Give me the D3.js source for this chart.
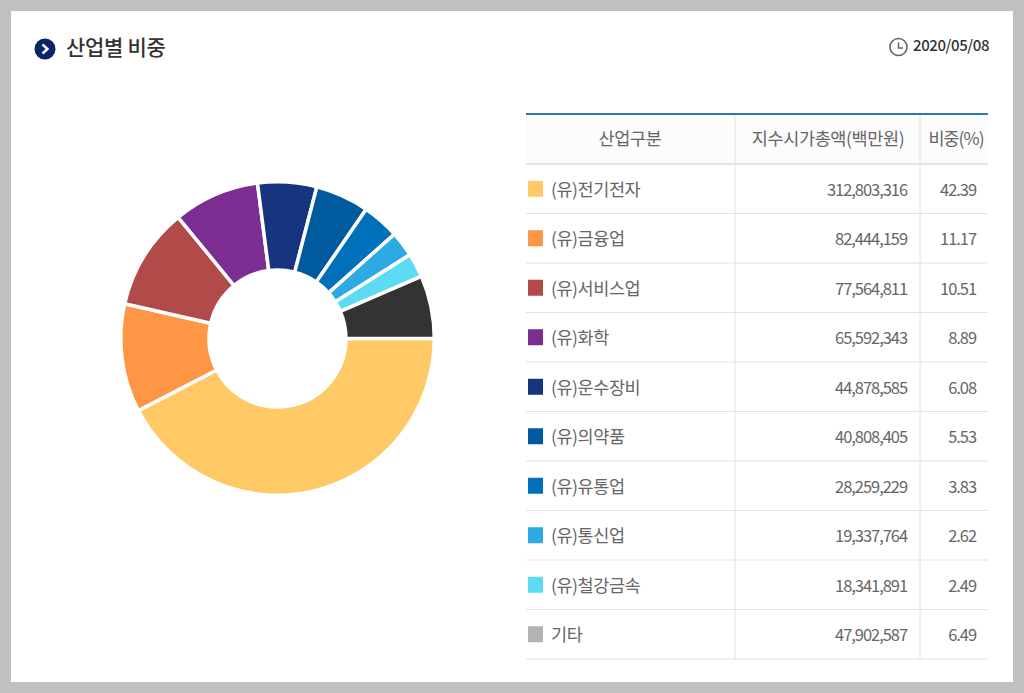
<!DOCTYPE html>
<html>
<head>
<meta charset="utf-8">
<script src="https://cdnjs.cloudflare.com/ajax/libs/d3/7.8.5/d3.min.js"></script>
<style>
html, body { margin: 0; padding: 0; background: #c0c0c0; overflow: hidden; }
svg { display: block; }
text { font-family: "Noto Sans CJK KR", "Noto Sans", sans-serif; }
</style>
</head>
<body>
<svg id="chart"></svg>
<script>
var categories = ["(유)전기전자", "(유)금융업", "(유)서비스업", "(유)화학", "(유)운수장비", "(유)의약품", "(유)유통업", "(유)통신업", "(유)철강금속", "기타"];
var marketCap = [312803316, 82444159, 77564811, 65592343, 44878585, 40808405, 28259229, 19337764, 18341891, 47902587];
var shares = [42.39, 11.17, 10.51, 8.89, 6.08, 5.53, 3.83, 2.62, 2.49, 6.49];
var sliceColors = ["#ffc966", "#ff9645", "#b24a4a", "#7c2d92", "#17347f", "#005a9e", "#0070ba", "#2daae4", "#5cdbf2", "#333333"];
var legendColors = ["#ffc966", "#ff9645", "#b24a4a", "#7c2d92", "#17347f", "#005a9e", "#0070ba", "#2daae4", "#5cdbf2", "#b3b3b3"];
var headers = ["산업구분", "지수시가총액(백만원)", "비중(%)"];

var width = 1024, height = 693;
var svg = d3.select("#chart").attr("width", width).attr("height", height);

//White card
svg.append("rect")
	.attr("x", 11).attr("y", 11)
	.attr("width", 1002).attr("height", 671)
	.attr("fill", "#fff");

//Title
var titleIcon = svg.append("g").attr("transform", "translate(45,49)");
titleIcon.append("circle").attr("r", 10.5).attr("fill", "#0b2465");
titleIcon.append("path")
	.attr("d", "M-2.5,-4.5L2.5,0L-2.5,4.5")
	.attr("fill", "none").attr("stroke", "#fff").attr("stroke-width", 2.4);

svg.append("text")
	.attr("x", 66).attr("y", 55)
	.attr("font-size", 21).attr("font-weight", 500)
	.attr("fill", "#333")
	.attr("letter-spacing", -0.3)
	.text("산업별 비중");

//Date
var clock = svg.append("g").attr("transform", "translate(898.5,47)");
clock.append("circle").attr("r", 8.5).attr("fill", "none").attr("stroke", "#666").attr("stroke-width", 1.6);
clock.append("path").attr("d", "M0,-4.5V1H4.5").attr("fill", "none").attr("stroke", "#666").attr("stroke-width", 1.5);

svg.append("text")
	.attr("x", 913).attr("y", 51)
	.attr("font-size", 15).attr("font-weight", 500)
	.attr("fill", "#333")
	.attr("letter-spacing", -0.4)
	.text("2020/05/08");

//Donut
var pie = d3.pie().sort(null)
	.startAngle(Math.PI / 2)
	.endAngle(Math.PI / 2 + 2 * Math.PI);
var arc = d3.arc().innerRadius(68.5).outerRadius(156.75);

svg.append("g")
	.attr("transform", "translate(277.5,338.5)")
	.selectAll("path")
	.data(pie(shares))
	.enter().append("path")
	.attr("d", arc)
	.attr("fill", function(d, i) { return sliceColors[i]; })
	.attr("stroke", "#fff")
	.attr("stroke-width", 3.5);

//Table
var tableLeft = 526, tableRight = 988, col1 = 735, col2 = 920;
var headTop = 114, headBottom = 164, tableBottom = 659;

var y = d3.scaleBand()
	.domain(categories)
	.range([headBottom, tableBottom]);

var table = svg.append("g");

table.append("rect")
	.attr("x", tableLeft).attr("y", headTop)
	.attr("width", tableRight - tableLeft).attr("height", headBottom - headTop)
	.attr("fill", "#fcfcfc");

table.selectAll(".row-line")
	.data(categories)
	.enter().append("line")
	.attr("class", "row-line")
	.attr("x1", tableLeft).attr("x2", tableRight)
	.attr("y1", function(d) { return y(d) + y.bandwidth(); })
	.attr("y2", function(d) { return y(d) + y.bandwidth(); })
	.attr("stroke", "#e2e2e2");

table.append("line")
	.attr("x1", tableLeft).attr("x2", tableRight)
	.attr("y1", headBottom).attr("y2", headBottom)
	.attr("stroke", "#dcdcdc").attr("stroke-width", 1.5);

table.selectAll(".col-line")
	.data([col1, col2])
	.enter().append("line")
	.attr("class", "col-line")
	.attr("x1", function(d) { return d; }).attr("x2", function(d) { return d; })
	.attr("y1", headTop).attr("y2", tableBottom)
	.attr("stroke", "#e2e2e2");

table.append("line")
	.attr("x1", tableLeft).attr("x2", tableRight)
	.attr("y1", headTop).attr("y2", headTop)
	.attr("stroke", "#2f75bb").attr("stroke-width", 2);

//Header text
var headerX = [630, 828, 956];
var headerSpacing = [-0.4, -0.4, -1];
table.selectAll(".head")
	.data(headers)
	.enter().append("text")
	.attr("class", "head")
	.attr("x", function(d, i) { return headerX[i]; })
	.attr("y", 145)
	.attr("text-anchor", "middle")
	.attr("font-size", 17.5)
	.attr("fill", "#666")
	.attr("letter-spacing", function(d, i) { return headerSpacing[i]; })
	.text(function(d) { return d; });

//Rows
var rows = table.selectAll(".row")
	.data(categories)
	.enter().append("g")
	.attr("class", "row")
	.attr("transform", function(d) { return "translate(0," + (y(d) + y.bandwidth() / 2) + ")"; });

rows.append("rect")
	.attr("x", 528).attr("y", -8)
	.attr("width", 15).attr("height", 16)
	.attr("fill", function(d, i) { return legendColors[i]; });

rows.append("text")
	.attr("x", 551).attr("y", 7)
	.attr("font-size", 17.5)
	.attr("fill", "#666")
	.attr("letter-spacing", -0.45)
	.text(function(d) { return d; });

rows.append("text")
	.attr("x", 907).attr("y", 7)
	.attr("text-anchor", "end")
	.attr("font-size", 16.5)
	.attr("fill", "#666")
	.attr("letter-spacing", -1.05)
	.text(function(d, i) { return d3.format(",")(marketCap[i]); });

rows.append("text")
	.attr("x", 976).attr("y", 7)
	.attr("text-anchor", "end")
	.attr("font-size", 16.5)
	.attr("fill", "#666")
	.attr("letter-spacing", -1.05)
	.text(function(d, i) { return d3.format(".2f")(shares[i]); });
</script>
</body>
</html>
